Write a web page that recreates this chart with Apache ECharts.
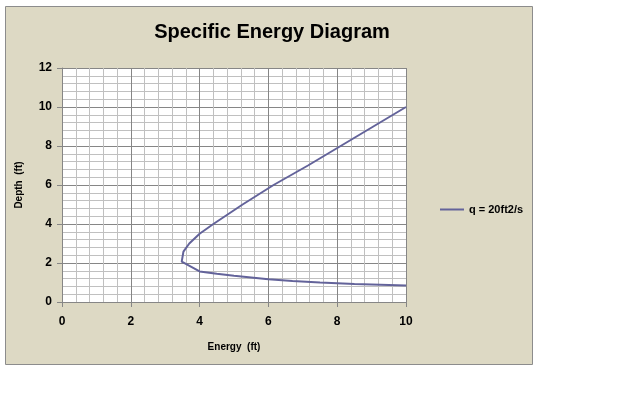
<!DOCTYPE html>
<html><head><meta charset="utf-8">
<script src="https://cdn.jsdelivr.net/npm/echarts@6/dist/echarts.min.js"></script>
<style>html,body{margin:0;padding:0;background:#fff}#c{width:640px;height:400px}</style>
</head><body><div id="c"></div>
<script>
var titleText = 'Specific Energy Diagram';
var seriesName = 'q = 20ft2/s';
var xName = 'Energy  (ft)';
var yName = 'Depth  (ft)';
// [energy, depth] points
var energy = [10.0, 9.05, 8.1, 7.15, 6.15, 5.25, 4.4, 4.0, 3.7, 3.53, 3.48, 4.0, 4.5, 5.0, 5.5, 6.0, 6.7, 7.5, 8.5, 10.0];
var depth  = [10.0, 9.0, 8.0, 7.0,  6.0,  5.0,  4.0, 3.5, 3.0, 2.58, 2.07, 1.57, 1.45, 1.35, 1.26, 1.17, 1.08, 1.0, 0.92, 0.85];
var data = energy.map(function (e, i) { return [e, depth[i]]; });

var chart = echarts.init(document.getElementById('c'));
var font = 'Liberation Sans';
chart.setOption({
  backgroundColor: '#ffffff',
  animation: false,
  graphic: [{
    type: 'rect', silent: true, z: -100,
    shape: { x: 5.5, y: 6.5, width: 527, height: 358 },
    style: { fill: '#ddd9c4', stroke: '#8c8c8c', lineWidth: 1 }
  }],
  title: {
    text: titleText, left: 267, top: 17, textAlign: 'center',
    textStyle: { fontFamily: font, fontWeight: 'bold', fontSize: 20, color: '#000' }
  },
  legend: {
    left: 435, top: 199, itemWidth: 24, itemHeight: 10, itemGap: 2,
    textStyle: { fontFamily: font, fontWeight: 'bold', fontSize: 11, color: '#000' },
    data: [{ name: seriesName, icon: 'path://M0,4H24V6H0Z' }]
  },
  grid: { left: 62, right: 234, top: 68, bottom: 98, show: true, backgroundColor: '#fff', borderWidth: 0 },
  xAxis: {
    type: 'value', min: 0, max: 10, interval: 2,
    name: xName, nameLocation: 'middle', nameGap: 40,
    nameTextStyle: { fontFamily: font, fontWeight: 'bold', fontSize: 10, color: '#000' },
    axisLine: { show: true, lineStyle: { color: '#868686' } },
    axisTick: { show: true, inside: false, length: 5, lineStyle: { color: '#868686' } },
    axisLabel: { margin: 14, fontFamily: font, fontWeight: 'bold', fontSize: 12, color: '#000' },
    splitLine: { show: true, lineStyle: { color: '#868686', width: 1 } },
    minorTick: { show: false, splitNumber: 5 },
    minorSplitLine: { show: true, lineStyle: { color: '#c0c0c0', width: 1 } }
  },
  yAxis: {
    type: 'value', min: 0, max: 12, interval: 2,
    name: yName, nameLocation: 'middle', nameGap: 38,
    nameTextStyle: { fontFamily: font, fontWeight: 'bold', fontSize: 10, color: '#000' },
    axisLine: { show: true, lineStyle: { color: '#868686' } },
    axisTick: { show: true, inside: false, length: 5, lineStyle: { color: '#868686' } },
    axisLabel: { margin: 10, fontFamily: font, fontWeight: 'bold', fontSize: 12, color: '#000' },
    splitLine: { show: true, lineStyle: { color: '#868686', width: 1 } },
    minorTick: { show: false, splitNumber: 5 },
    minorSplitLine: { show: true, lineStyle: { color: '#c0c0c0', width: 1 } }
  },
  series: [{
    name: seriesName, type: 'line', data: data, showSymbol: false, symbol: 'none',
    lineStyle: { color: '#63639a', width: 2 }, itemStyle: { color: '#63639a' }
  }]
});
</script></body></html>
